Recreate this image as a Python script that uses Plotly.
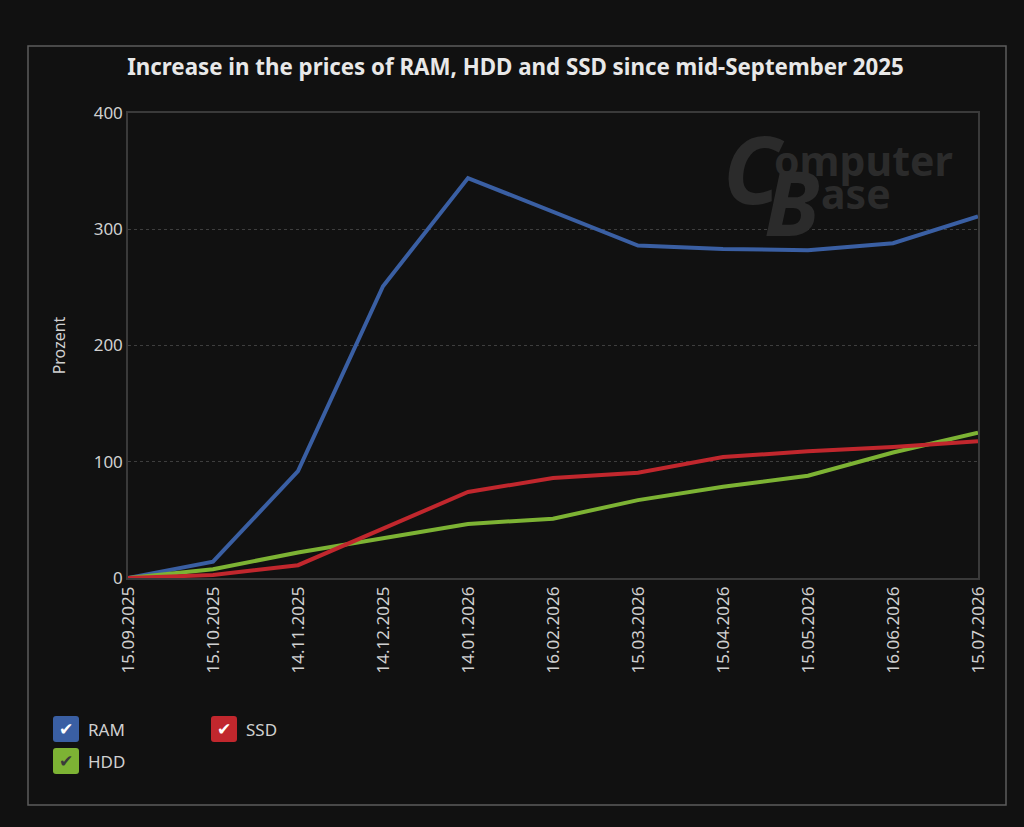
import plotly.graph_objects as go

dates = ["15.09.2025", "15.10.2025", "14.11.2025", "14.12.2025", "14.01.2026",
         "16.02.2026", "15.03.2026", "15.04.2026", "15.05.2026", "16.06.2026",
         "15.07.2026"]
ram = [0, 14, 92, 251, 344, 315, 286, 283, 282, 288, 311]
hdd = [0, 7.5, 22, 34, 46.5, 51, 67, 78.5, 88, 108, 125]
ssd = [0, 2.6, 11, 42.6, 74, 86, 90.6, 104, 109, 112.7, 117.6]

BG = "#111111"
TXT = "#d0d0d0"
FONT = "Noto Sans"

# plot area in pixels: x 128..978, y 113..578
L, R, T, B = 128, 978, 113, 578


def px(x, y):
    return (x - L) / (R - L), (B - y) / (B - T)


def rounded_box(x0, y0, x1, y1, r=3):
    # rounded rectangle path in paper coords, built from pixel corners
    pts = []
    a = px(x0 + r, y0); pts.append("M %f,%f" % a)
    b = px(x1 - r, y0); pts.append("L %f,%f" % b)
    c = px(x1, y0); d = px(x1, y0 + r); pts.append("Q %f,%f %f,%f" % (c + d))
    e = px(x1, y1 - r); pts.append("L %f,%f" % e)
    f = px(x1, y1); g = px(x1 - r, y1); pts.append("Q %f,%f %f,%f" % (f + g))
    h = px(x0 + r, y1); pts.append("L %f,%f" % h)
    i = px(x0, y1); j = px(x0, y1 - r); pts.append("Q %f,%f %f,%f" % (i + j))
    k = px(x0, y0 + r); pts.append("L %f,%f" % k)
    m = px(x0, y0); n = px(x0 + r, y0); pts.append("Q %f,%f %f,%f Z" % (m + n))
    return " ".join(pts)


fig = go.Figure()

fig.add_trace(go.Scatter(x=dates, y=ram, mode="lines", name="RAM",
                         line=dict(color="#3a5fa3", width=4)))
fig.add_trace(go.Scatter(x=dates, y=hdd, mode="lines", name="HDD",
                         line=dict(color="#7db334", width=4)))
fig.add_trace(go.Scatter(x=dates, y=ssd, mode="lines", name="SSD",
                         line=dict(color="#c1272d", width=4)))

# outer frame
f0 = px(28, 805); f1 = px(1006, 46)
fig.add_shape(type="rect", xref="paper", yref="paper",
              x0=f0[0], y0=f0[1], x1=f1[0], y1=f1[1],
              line=dict(color="#5c5c5c", width=1.5), layer="below")

# watermark
wm = "#2b2b2b"
for txt, cx, cy, size in [("<b><i>C</i></b>", 754, 168, 94),
                          ("<b><i>B</i></b>", 792, 201, 90),
                          ("<b>omputer</b>", 863, 160, 41),
                          ("<b>ase</b>", 856, 193, 41)]:
    ax, ay = px(cx, cy)
    fig.add_annotation(text=txt, xref="paper", yref="paper", x=ax, y=ay,
                       xanchor="center", yanchor="middle", showarrow=False,
                       font=dict(family=FONT, size=size, color=wm))

# custom checkbox legend
legend_items = [("RAM", "#3a5fa3", 53, 716, "white"),
                ("SSD", "#c1272d", 211, 716, "white"),
                ("HDD", "#7db334", 53, 748, "#3a3a3a")]
for name, col, bx, by, ck in legend_items:
    fig.add_shape(type="path", xref="paper", yref="paper",
                  path=rounded_box(bx, by, bx + 26, by + 26),
                  fillcolor=col, line=dict(width=0))
    cx, cy = px(bx + 13, by + 13)
    fig.add_annotation(text="✔", xref="paper", yref="paper", x=cx, y=cy,
                       xanchor="center", yanchor="middle", showarrow=False,
                       font=dict(family="DejaVu Sans", size=17, color=ck))
    tx, ty = px(bx + 33, by + 13)
    fig.add_annotation(text=name, xref="paper", yref="paper", x=tx, y=ty,
                       xanchor="left", yanchor="middle", showarrow=False,
                       font=dict(family=FONT, size=17, color=TXT))

fig.update_layout(
    width=1024, height=827,
    paper_bgcolor=BG, plot_bgcolor=BG,
    margin=dict(l=L, r=1024 - R, t=T, b=827 - B),
    showlegend=False,
    font=dict(family=FONT, color=TXT, size=17),
    title=dict(text="<b>Increase in the prices of RAM, HDD and SSD since mid-September 2025</b>",
               x=515.5 / 1024, xanchor="center", y=1 - 67 / 827, yanchor="middle",
               font=dict(family=FONT, size=22.3, color="#e8e8e8")),
    xaxis=dict(type="category", tickangle=-90, showgrid=False, zeroline=False,
               showline=True, linecolor="#3a3a3a", mirror=True, linewidth=1.5,
               tickfont=dict(size=17, color=TXT), range=[0, len(dates) - 1],
               ticks=""),
    yaxis=dict(range=[0, 400], dtick=100, showgrid=True, gridcolor="#3e3e3e",
               griddash="dot", zeroline=False, showline=True, linecolor="#3a3a3a",
               mirror=True, linewidth=1.5, tickfont=dict(size=17, color=TXT),
               title=dict(text="Prozent", font=dict(size=16, color=TXT), standoff=24)),
)

fig.write_html("out.html", config={"displayModeBar": False},
               post_script="document.body.style.margin='0px';")
